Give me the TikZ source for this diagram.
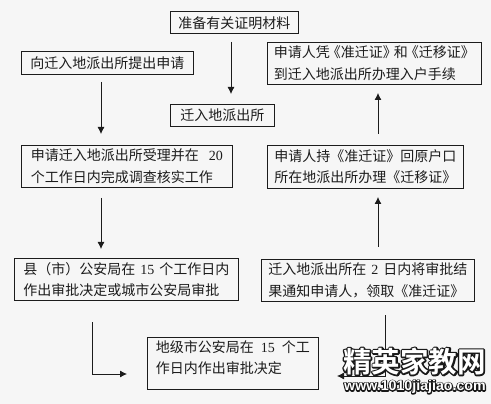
\documentclass[tikz,border=0pt]{standalone}
\usepackage{fontspec}
\setmainfont{Noto Sans CJK SC}
\newfontfamily\latin{Liberation Serif}
\newfontfamily\wmcjk{Noto Sans CJK SC Bold}
\newfontfamily\wmlat{Liberation Sans Bold}
\usetikzlibrary{arrows.meta}
\newcommand{\dg}[1]{\hspace{5pt}{\latin #1}\hspace{5pt}}
\newcommand{\lbk}{\hspace{-3pt}《}
\newcommand{\rbk}{》\hspace{-3pt}}
\newcommand{\outl}[2]{\rlap{\special{pdf:code q 1 Tr #1 w 1 j 0.1 0.1 0.1 RG}#2\special{pdf:code 0 Tr Q}}\textcolor{white}{#2}}
\definecolor{bg}{HTML}{F6F6F6}
\definecolor{ink}{HTML}{1C1C1C}
\tikzset{
  x=1pt,y=-1pt,
  flowbox/.style={draw=ink,line width=0.8pt,anchor=north west,align=left,inner xsep=7pt,inner ysep=0pt,
    font=\fontsize{14}{21.5}\selectfont,text=ink,fill=bg,minimum height=22pt},
  arr/.style={draw=ink,line width=0.8pt,-{Latex[length=7pt,width=7pt]}}
}
\begin{document}
\begin{tikzpicture}
\fill[bg] (0,0) rectangle (491,404);
\useasboundingbox (0,0) rectangle (491,404);
\node[flowbox,minimum width=128pt,minimum height=22pt] (a) at (170,11.5) {准备有关证明材料};
\node[flowbox,minimum width=172pt,minimum height=23pt] (b) at (21,51) {向迁入地派出所提出申请};
\node[flowbox,minimum width=104pt,minimum height=22pt] (c) at (170,104) {迁入地派出所};
\node[flowbox,minimum width=211pt,minimum height=42pt] (d) at (21,145) {申请迁入地派出所受理并在\hspace{5pt}\dg{20}\\个工作日内完成调查核实工作};
\node[flowbox,minimum width=224pt,minimum height=42pt] (e) at (14,258) {县（市）公安局在\dg{15}个工作日内\\作出审批决定或城市公安局审批};
\node[flowbox,minimum width=171pt,minimum height=52pt,text depth=13pt] (f) at (147,337) {地级市公安局在\hspace{2pt}\dg{15}\hspace{2pt}个工\\作日内作出审批决定};
\node[flowbox,minimum width=211pt,minimum height=42pt,inner xsep=6.5pt] (g) at (267,42) {申请人凭\lbk 准迁证\rbk 和\lbk 迁移证\rbk\\到迁入地派出所办理入户手续};
\node[flowbox,minimum width=195pt,minimum height=43pt] (h) at (267,145) {申请人持《准迁证》回原户口\\所在地派出所办理《迁移证》};
\node[flowbox,minimum width=212pt,minimum height=42pt] (i) at (261,259) {迁入地派出所在\dg{2}日内将审批结\\果通知申请人，领取《准迁证》};
\coordinate (a1) at (231,42); \coordinate (a2) at (231,94);
\coordinate (b1) at (101,82); \coordinate (b2) at (101,134);
\coordinate (d1) at (101,198); \coordinate (d2) at (101,249);
\coordinate (e1) at (92,322); \coordinate (e2) at (92,374); \coordinate (e3) at (127,374);
\coordinate (h1) at (378,134); \coordinate (h2) at (378,93);
\coordinate (i1) at (378,247); \coordinate (i2) at (378,197);
\coordinate (j1) at (385,315); \coordinate (j2) at (385,376); \coordinate (j3) at (337,376);
\draw[arr] (a1) -- (a2);
\draw[arr] (b1) -- (b2);
\draw[arr] (d1) -- (d2);
\draw[arr] (e1) -- (e2) -- (e3);
\draw[arr] (h1) -- (h2);
\draw[arr] (i1) -- (i2);
\draw[arr] (j1) -- (j2) -- (j3);
\node[anchor=center,inner sep=0pt,font=\wmcjk\fontsize{28.5}{29}\selectfont] (w1) at (414.5,361.5) {\outl{3}{精英家教网}};
\node[anchor=center,inner sep=0pt,font=\wmlat\fontsize{14.2}{15}\selectfont] (w2) at (415,387) {\outl{2.2}{www.1010jiajiao.com}};
\end{tikzpicture}
\end{document}
